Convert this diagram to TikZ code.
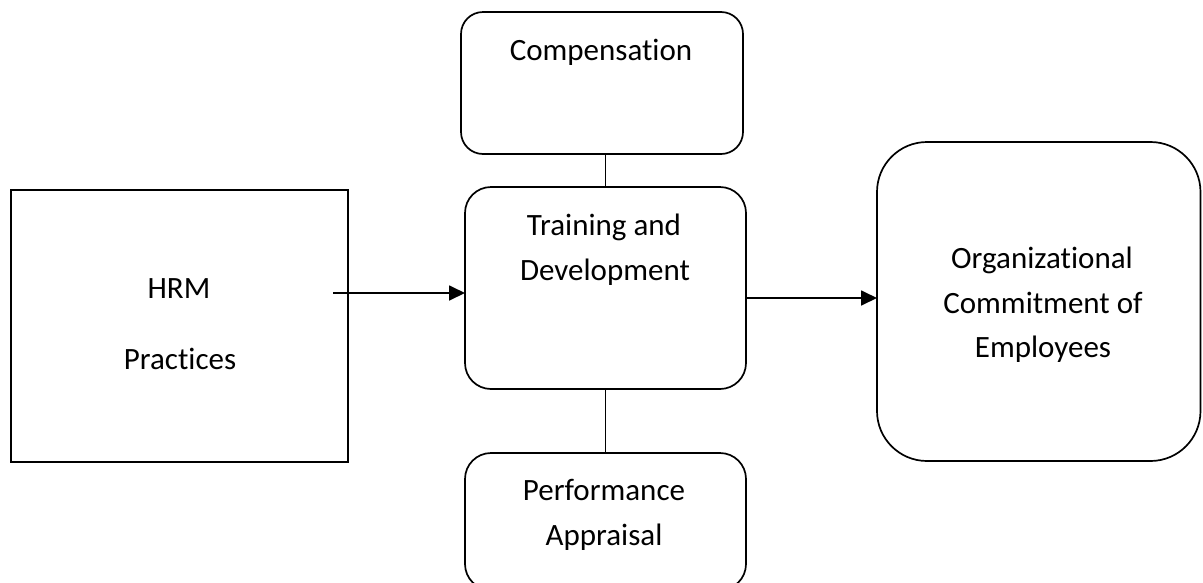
\documentclass[tikz,border=0pt]{standalone}
\usepackage{fontspec}
\setmainfont{Carlito}[RawFeature=-liga]
\usetikzlibrary{arrows.meta}
\begin{document}
\begin{tikzpicture}[x=1pt,y=-1pt,
  boxsq/.style={draw, line width=1.7pt, inner sep=0pt, outer sep=0pt},
  boxrnd/.style={boxsq},
  lbl/.style={anchor=base, inner sep=0pt, font=\fontsize{31pt}{40pt}\selectfont},
  conn/.style={line width=1.8pt},
  arr/.style={conn, -{Triangle[length=16pt,width=15pt]}}]
\useasboundingbox (0,0) rectangle (1203,582);
\clip (0,0) rectangle (1203,582);
% boxes
\node[boxsq, minimum width=337pt, minimum height=272pt] (hrm) at (179.5,326) {};
\node[boxrnd, rounded corners=22pt, minimum width=282pt, minimum height=142pt] (comp) at (602,83) {};
\node[boxrnd, rounded corners=26pt, minimum width=281pt, minimum height=202pt] (tr) at (605.5,288) {};
\node[boxrnd, rounded corners=26pt, minimum width=281pt, minimum height=137pt] (perf) at (605.5,521.5) {};
\node[boxrnd, rounded corners=50pt, minimum width=323.5pt, minimum height=319pt] (org) at (1038.75,301.5) {};
% texts
\node[lbl] (t1) at (179,298) {HRM};
\node[lbl] (t2) at (180,369) {Practices};
\node[lbl] (t3) at (601,60) {Compensation};
\node[lbl] (t4) at (604,235) {Training and};
\node[lbl] (t5) at (605,280) {Development};
\node[lbl] (t6) at (604,500) {Performance};
\node[lbl] (t7) at (604,545) {Appraisal};
\node[lbl] (t8) at (1042,268) {Organizational};
\node[lbl] (t9) at (1043,313) {Commitment of};
\node[lbl] (t10) at (1043,357) {Employees};
% connectors
\coordinate (a1) at (333,293);
\coordinate (a2) at (746,298);
\draw[arr] (a1) -- (a1 -| tr.west);
\draw[arr] (a2 -| tr.east) -- (a2 -| org.west);
\draw[conn] (tr.north) -- (tr.north |- comp.south);
\draw[conn] (tr.south) -- (perf.north);
\end{tikzpicture}
\end{document}
